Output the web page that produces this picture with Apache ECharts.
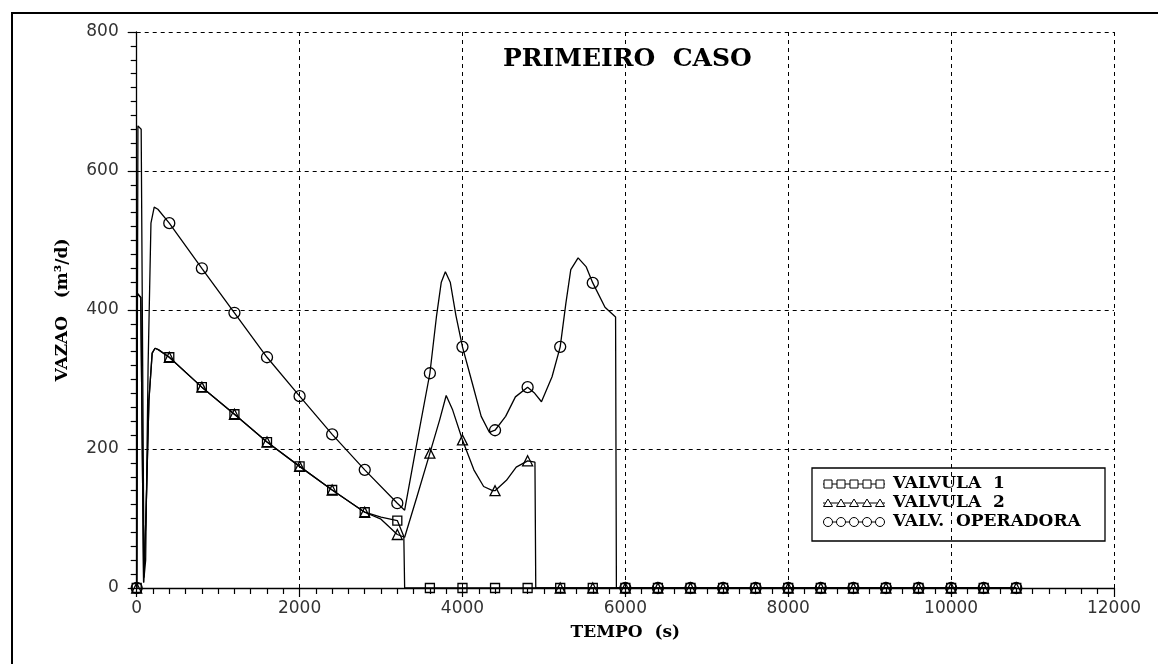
<!DOCTYPE html>
<html>
<head>
<meta charset="utf-8">
<script src="https://cdn.jsdelivr.net/npm/echarts@6/dist/echarts.min.js"></script>
<style>
  html, body { margin: 0; padding: 0; background: #fff; }
  #chart { width: 1158px; height: 664px; }
</style>
</head>
<body>
<div id="chart"></div>
<script>
// Axis ticks
const xTicks = [0, 2000, 4000, 6000, 8000, 10000, 12000];
const yTicks = [0, 200, 400, 600, 800];

// VALVULA 1 (square markers)
const v1Time = [0, 8, 50, 85, 115, 150, 190, 225, 265,
  400, 800, 1200, 1600, 2000, 2400, 2800,
  3000, 3200, 3280, 3290,
  3600, 4000, 4400, 4800, 5200, 5600, 6000, 6400, 6800, 7200, 7600, 8000, 8400, 8800, 9200, 9600, 10000, 10400, 10800];
const v1Flow = [0, 424, 418, 8, 110, 270, 338, 345, 343,
  332, 289, 250, 210, 175, 141, 109,
  102, 97, 74, 0,
  0, 0, 0, 0, 0, 0, 0, 0, 0, 0, 0, 0, 0, 0, 0, 0, 0, 0, 0];

// VALVULA 2 (triangle markers)
const v2Time = [0, 8, 50, 85, 115, 150, 190, 225, 265,
  400, 800, 1200, 1600, 2000, 2400, 2800,
  3000, 3200, 3290, 3440, 3600, 3720, 3800, 3880, 4000, 4140, 4260, 4370, 4400, 4540, 4660, 4800, 4890, 4900,
  5200, 5600, 6000, 6400, 6800, 7200, 7600, 8000, 8400, 8800, 9200, 9600, 10000, 10400, 10800];
const v2Flow = [0, 424, 418, 8, 110, 270, 338, 345, 343,
  332, 289, 250, 210, 175, 141, 109,
  99, 77, 73, 131, 194, 242, 277, 256, 213, 170, 146, 140, 140, 155, 174, 183, 181, 0,
  0, 0, 0, 0, 0, 0, 0, 0, 0, 0, 0, 0, 0, 0, 0];

// VALV. OPERADORA (circle markers)
const opTime = [0, 15, 55, 90, 110, 140, 175, 215, 260,
  400, 800, 1200, 1600, 2000, 2400, 2800, 3200,
  3290, 3450, 3600, 3680, 3740, 3790, 3850, 3920, 4000,
  4120, 4230, 4330, 4400, 4530, 4650, 4800,
  4880, 4970, 5100, 5200, 5270, 5330, 5420, 5520, 5600,
  5750, 5880, 5890,
  6000, 6400, 6800, 7200, 7600, 8000, 8400, 8800, 9200, 9600, 10000, 10400, 10800];
const opFlow = [0, 665, 660, 15, 40, 320, 525, 548, 545,
  525, 460, 396, 332, 276, 221, 170, 122,
  112, 215, 309, 390, 440, 455, 440, 392, 347,
  295, 247, 224, 227, 247, 275, 289,
  281, 268, 304, 347, 410, 458, 475, 462, 439,
  404, 390, 0,
  0, 0, 0, 0, 0, 0, 0, 0, 0, 0, 0, 0, 0];

// Samples are marked every 400 s
const markerStep = 400;

const serifFont = '"DejaVu Serif", "Liberation Serif", serif';
const sansFont = '"DejaVu Sans", "Liberation Sans", sans-serif';

function buildSeries(name, times, flows, shape, size) {
  const data = times.map((t, i) => ({
    value: [t, flows[i]],
    symbol: (t % markerStep === 0) ? shape : 'none'
  }));
  return {
    name: name,
    type: 'line',
    data: data,
    showSymbol: true,
    showAllSymbol: true,
    symbolSize: size,
    lineStyle: { color: '#000', width: 1.3 },
    itemStyle: { color: 'rgba(0,0,0,0)', borderColor: '#000', borderWidth: 1.3 },
    emphasis: { disabled: true },
    z: 5
  };
}

// Boxed key with five sample markers per entry
const legendRows = [
  { label: 'VALVULA  1', shape: 'rect' },
  { label: 'VALVULA  2', shape: 'triangle' },
  { label: 'VALV.  OPERADORA', shape: 'circle' }
];
const legendChildren = [{
  type: 'rect',
  shape: { x: 812, y: 468, width: 293, height: 73 },
  style: { fill: 'none', stroke: '#000', lineWidth: 1.3 }
}];
legendRows.forEach((row, r) => {
  const cy = 484 + r * 19;
  legendChildren.push({
    type: 'line',
    shape: { x1: 823, y1: cy, x2: 885, y2: cy },
    style: { stroke: '#000', lineWidth: 1 }
  });
  for (let k = 0; k < 5; k++) {
    const cx = 828 + k * 13;
    if (row.shape === 'rect') {
      legendChildren.push({ type: 'rect', shape: { x: cx - 4, y: cy - 4, width: 8, height: 8 },
        style: { fill: '#fff', stroke: '#000', lineWidth: 1 } });
    } else if (row.shape === 'triangle') {
      legendChildren.push({ type: 'polygon', shape: { points: [[cx, cy - 4], [cx + 4.5, cy + 3.5], [cx - 4.5, cy + 3.5]] },
        style: { fill: '#fff', stroke: '#000', lineWidth: 1 } });
    } else {
      legendChildren.push({ type: 'circle', shape: { cx: cx, cy: cy, r: 4.5 },
        style: { fill: '#fff', stroke: '#000', lineWidth: 1 } });
    }
  }
  legendChildren.push({
    type: 'text',
    style: { x: 893, y: cy, text: row.label, fill: '#000',
      font: 'bold 17px ' + serifFont, textVerticalAlign: 'middle', textAlign: 'left' }
  });
});

const plainNumber = v => String(v);

const chart = echarts.init(document.getElementById('chart'), null, { renderer: 'canvas' });
chart.setOption({
  animation: false,
  backgroundColor: '#fff',
  title: {
    text: 'PRIMEIRO  CASO',
    left: 503, top: 47, padding: 0,
    textStyle: { fontFamily: serifFont, fontWeight: 'bold', fontSize: 25, color: '#000' }
  },
  grid: { left: 136.7, right: 44, top: 32, bottom: 76, containLabel: false },
  xAxis: {
    type: 'value',
    min: xTicks[0], max: xTicks[xTicks.length - 1], interval: xTicks[1] - xTicks[0],
    name: 'TEMPO  (s)', nameLocation: 'middle', nameGap: 36,
    nameTextStyle: { fontFamily: serifFont, fontWeight: 'bold', fontSize: 17, color: '#000' },
    axisLine: { show: true, onZero: false, lineStyle: { color: '#000', width: 1.3 } },
    axisTick: { show: true, inside: false, length: 9, lineStyle: { color: '#000', width: 1.2 } },
    minorTick: { show: true, splitNumber: 10, length: 6, lineStyle: { color: '#000', width: 1.2 } },
    axisLabel: { margin: 12, fontFamily: sansFont, fontSize: 17, color: '#333', formatter: plainNumber },
    splitLine: { show: true, lineStyle: { color: '#000', width: 1, type: [4, 4] } }
  },
  yAxis: {
    type: 'value',
    min: yTicks[0], max: yTicks[yTicks.length - 1], interval: yTicks[1] - yTicks[0],
    name: 'VAZAO   (m³/d)', nameLocation: 'middle', nameGap: 66, nameRotate: 90,
    nameTextStyle: { fontFamily: serifFont, fontWeight: 'bold', fontSize: 17, color: '#000' },
    axisLine: { show: true, onZero: false, lineStyle: { color: '#000', width: 1.3 } },
    axisTick: { show: true, inside: false, length: 9, lineStyle: { color: '#000', width: 1.2 } },
    minorTick: { show: true, splitNumber: 10, length: 6, lineStyle: { color: '#000', width: 1.2 } },
    axisLabel: { margin: 18, fontFamily: sansFont, fontSize: 17, color: '#333', formatter: plainNumber },
    splitLine: { show: true, lineStyle: { color: '#000', width: 1, type: [4, 4] } }
  },
  graphic: [
    {
      type: 'rect',
      shape: { x: 12, y: 13, width: 1200, height: 700 },
      style: { fill: 'none', stroke: '#000', lineWidth: 2 },
      silent: true
    },
    { type: 'group', children: legendChildren, silent: true }
  ],
  series: [
    buildSeries('VALVULA 1', v1Time, v1Flow, 'rect', 9),
    buildSeries('VALVULA 2', v2Time, v2Flow, 'triangle', 10),
    buildSeries('VALV. OPERADORA', opTime, opFlow, 'circle', 11)
  ]
});
</script>
</body>
</html>
